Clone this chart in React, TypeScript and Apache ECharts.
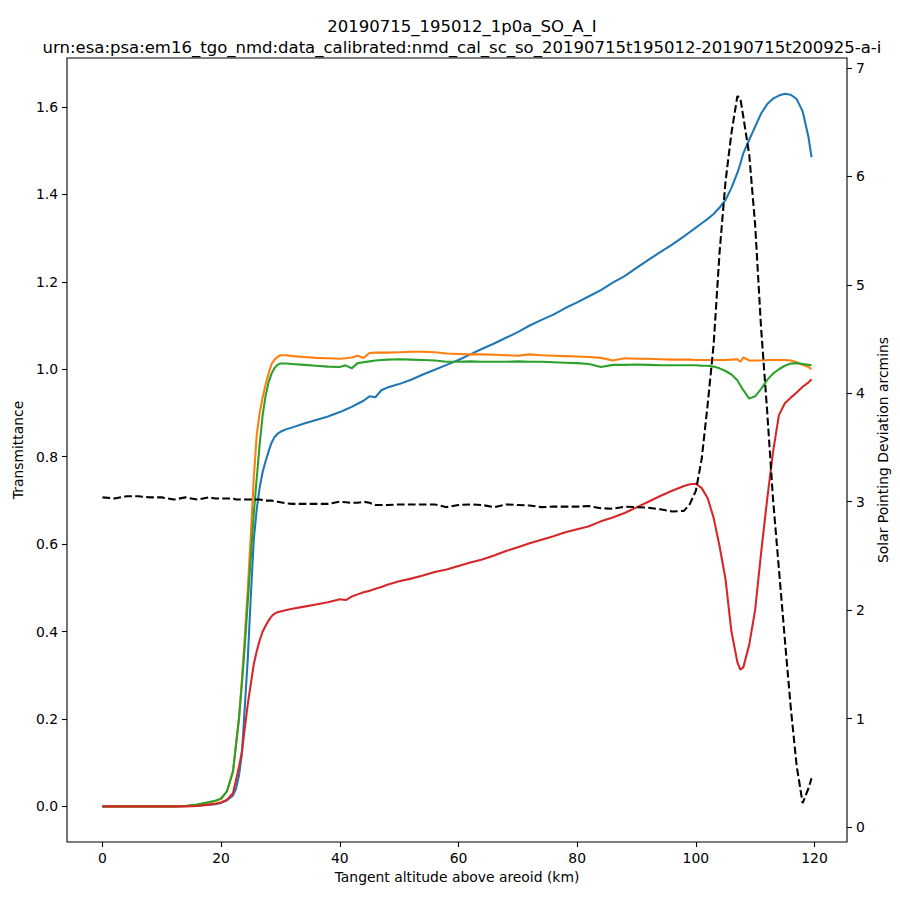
import React, { useEffect, useRef } from "react";
import * as echarts from "echarts";

const titleLine1 = "20190715_195012_1p0a_SO_A_I";
const titleLine2 =
  "urn:esa:psa:em16_tgo_nmd:data_calibrated:nmd_cal_sc_so_20190715t195012-20190715t200925-a-i";

const altitude = [
  0, 2, 4, 6, 8, 10, 12, 14, 16, 18,
  19, 20, 21, 22, 22.5, 23, 23.5, 24, 24.5, 25,
  25.5, 26, 26.5, 27, 27.5, 28, 28.5, 29, 29.5, 30,
  31, 32, 34, 36, 38, 40, 41, 42, 43, 44,
  45, 46, 47, 48, 50, 52, 54, 56, 58, 60,
  62, 64, 66, 68, 70, 72, 74, 76, 78, 80,
  82, 84, 86, 88, 90, 92, 94, 96, 98, 99,
  100, 101, 102, 103, 104, 105, 106, 107, 107.5, 108,
  109, 110, 111, 112, 113, 114, 115, 116, 117, 118,
  119, 119.5,
];

const blueSeries = [
  0, 0, 0, 0, 0, 0, 0, 0.001, 0.002, 0.004,
  0.005, 0.008, 0.014, 0.025, 0.04, 0.07, 0.12, 0.23, 0.34, 0.48,
  0.61, 0.68, 0.73, 0.765, 0.79, 0.812, 0.832, 0.845, 0.852, 0.857,
  0.863, 0.867, 0.876, 0.884, 0.892, 0.902, 0.908, 0.914, 0.921, 0.928,
  0.938, 0.936, 0.952, 0.958, 0.966, 0.976, 0.988, 0.999, 1.01, 1.021,
  1.034, 1.047, 1.059, 1.072, 1.085, 1.1, 1.113, 1.125, 1.14, 1.153,
  1.167, 1.181, 1.198, 1.213, 1.232, 1.25, 1.268, 1.285, 1.304, 1.314,
  1.324, 1.334, 1.344, 1.355, 1.37, 1.387, 1.415, 1.449, 1.47, 1.494,
  1.525, 1.555, 1.585, 1.606, 1.619, 1.626, 1.63, 1.628, 1.618, 1.59,
  1.53, 1.485,
];

const orangeSeries = [
  0, 0, 0, 0, 0, 0, 0, 0.001, 0.004, 0.009,
  0.012, 0.017, 0.035, 0.08, 0.14, 0.2, 0.29, 0.39, 0.5, 0.62,
  0.75, 0.85, 0.9, 0.936, 0.965, 0.99, 1.012, 1.022, 1.028, 1.032,
  1.032, 1.03, 1.028, 1.026, 1.025, 1.024, 1.025, 1.027, 1.031, 1.026,
  1.037, 1.038, 1.038, 1.038, 1.039, 1.04, 1.04, 1.039, 1.036, 1.035,
  1.034, 1.034, 1.033, 1.032, 1.031, 1.034, 1.032, 1.031, 1.03, 1.029,
  1.028, 1.026, 1.02, 1.025, 1.024, 1.024, 1.023, 1.022, 1.022, 1.022,
  1.021, 1.021, 1.021, 1.021, 1.021, 1.021, 1.022, 1.023, 1.017, 1.027,
  1.02, 1.02, 1.02, 1.021, 1.021, 1.021, 1.021, 1.02, 1.016, 1.01,
  1.005, 1.0,
];

const greenSeries = [
  0, 0, 0, 0, 0, 0, 0, 0.001, 0.004, 0.01,
  0.013, 0.018, 0.035, 0.08, 0.14, 0.2, 0.28, 0.37, 0.47, 0.57,
  0.67, 0.75, 0.83, 0.895, 0.94, 0.97, 0.99, 1.003, 1.01, 1.013,
  1.013, 1.012, 1.01, 1.008, 1.006, 1.005, 1.009, 1.002, 1.014, 1.016,
  1.018, 1.02, 1.021, 1.022, 1.023, 1.022, 1.021, 1.02, 1.017, 1.017,
  1.018, 1.017, 1.017, 1.017, 1.018, 1.017, 1.017, 1.016, 1.015, 1.014,
  1.012, 1.005, 1.01, 1.01, 1.011, 1.01, 1.009, 1.009, 1.009, 1.009,
  1.009, 1.008, 1.008, 1.006, 1.002, 0.996, 0.988, 0.975, 0.963, 0.952,
  0.933, 0.938, 0.955, 0.975, 0.99, 1.0, 1.008, 1.013, 1.014, 1.012,
  1.01, 1.009,
];

const redSeries = [
  0, 0, 0, 0, 0, 0, 0, 0, 0.001, 0.004,
  0.006, 0.009, 0.015, 0.03, 0.06, 0.09, 0.125, 0.18, 0.235, 0.28,
  0.325, 0.355, 0.38, 0.4, 0.413, 0.425, 0.435, 0.441, 0.444, 0.446,
  0.449, 0.452, 0.457, 0.462, 0.467, 0.474, 0.472, 0.48, 0.485, 0.49,
  0.493, 0.498, 0.502, 0.507, 0.515, 0.521, 0.528, 0.536, 0.542, 0.55,
  0.558, 0.565, 0.574, 0.584, 0.593, 0.602, 0.61, 0.618, 0.627, 0.634,
  0.641, 0.652, 0.661, 0.671, 0.684, 0.697, 0.71, 0.722, 0.733, 0.737,
  0.738, 0.728, 0.705, 0.66, 0.595, 0.52, 0.4, 0.33, 0.313, 0.318,
  0.37, 0.45, 0.58, 0.7, 0.81, 0.895, 0.922, 0.935, 0.947, 0.96,
  0.97, 0.977,
];

const pointingDeviation = [
  3.04, 3.03, 3.05, 3.05, 3.04, 3.04, 3.02, 3.04, 3.02, 3.04,
  3.03, 3.03, 3.03, 3.03, 3.02, 3.02, 3.02, 3.02, 3.02, 3.02,
  3.02, 3.02, 3.02, 3.015, 3.01, 3.01, 3.01, 3.005, 3.0, 2.995,
  2.985, 2.98, 2.98, 2.98, 2.98, 3.0, 2.995, 2.99, 2.99, 3.0,
  2.99, 2.97, 2.97, 2.97, 2.975, 2.975, 2.975, 2.975, 2.95, 2.97,
  2.975, 2.97, 2.95, 2.975, 2.97, 2.965, 2.95, 2.955, 2.955, 2.955,
  2.96, 2.94, 2.935, 2.955, 2.95, 2.945, 2.93, 2.91, 2.915, 2.98,
  3.1, 3.4, 3.9, 4.45, 5.3, 5.95, 6.4, 6.74, 6.72, 6.55,
  6.2, 5.55, 4.6, 3.85, 3.03, 2.38, 1.73, 1.1, 0.56, 0.22,
  0.36, 0.45,
];

const xTicks = [0, 20, 40, 60, 80, 100, 120];
const leftTicks = [0, 0.2, 0.4, 0.6, 0.8, 1.0, 1.2, 1.4, 1.6];
const rightTicks = [0, 1, 2, 3, 4, 5, 6, 7];

const FONT = "DejaVu Sans";
const LW = 2.08;

function pairs(values: number[]) {
  return altitude.map((x, i) => [x, values[i]]);
}

function lineSeries(values: number[], color: string, yAxisIndex: number, dashed = false) {
  return {
    type: "line",
    yAxisIndex,
    data: pairs(values),
    showSymbol: false,
    symbol: "none",
    silent: true,
    lineStyle: { color, width: LW, type: dashed ? [7.7, 3.3] : "solid" },
    itemStyle: { color },
  };
}

export default function App() {
  const ref = useRef<HTMLDivElement>(null);

  useEffect(() => {
    const chart = echarts.init(ref.current!, null, { renderer: "svg" });
    const axisText = { color: "#000", fontSize: 13.9, fontFamily: FONT };
    const tickStyle = { color: "#000", width: 1.1 };
    chart.setOption({
      animation: false,
      textStyle: { fontFamily: FONT, color: "#000" },
      title: [
        {
          text: titleLine1,
          left: 457,
          top: 13,
          textAlign: "center",
          textStyle: { fontSize: 16.5, fontWeight: "normal", color: "#000", fontFamily: FONT },
        },
        {
          text: titleLine2,
          left: 457,
          top: 34,
          textAlign: "center",
          textStyle: { fontSize: 16.5, fontWeight: "normal", color: "#000", fontFamily: FONT },
        },
      ],
      grid: {
        left: 67,
        right: 53,
        top: 58,
        bottom: 58,
        show: true,
        borderColor: "#000",
        borderWidth: 1.1,
        backgroundColor: "transparent",
      },
      xAxis: {
        type: "value",
        min: -5.975,
        max: 125.475,
        splitNumber: 6,
        axisLine: { show: false, onZero: false },
        axisTick: { show: true, length: 5, lineStyle: tickStyle, customValues: xTicks },
        axisLabel: { ...axisText, margin: 9, customValues: xTicks },
        splitLine: { show: false },
        name: "Tangent altitude above areoid (km)",
        nameLocation: "middle",
        nameGap: 28,
        nameTextStyle: axisText,
      },
      yAxis: [
        {
          type: "value",
          position: "left",
          min: -0.0815,
          max: 1.712,
          splitNumber: 9,
          axisLine: { show: false, onZero: false },
          axisTick: { show: true, length: 5, lineStyle: tickStyle, customValues: leftTicks },
          axisLabel: {
            ...axisText,
            margin: 9,
            customValues: leftTicks,
            formatter: (v: number) => v.toFixed(1),
          },
          splitLine: { show: false },
          name: "Transmittance",
          nameLocation: "middle",
          nameRotate: 90,
          nameGap: 39,
          nameTextStyle: axisText,
        },
        {
          type: "value",
          position: "right",
          min: -0.138,
          max: 7.092,
          splitNumber: 7,
          axisLine: { show: false, onZero: false },
          axisTick: { show: true, length: 5, lineStyle: tickStyle, customValues: rightTicks },
          axisLabel: {
            ...axisText,
            margin: 9,
            customValues: rightTicks,
          },
          splitLine: { show: false },
          name: "Solar Pointing Deviation arcmins",
          nameLocation: "middle",
          nameRotate: 90,
          nameGap: 24,
          nameTextStyle: axisText,
        },
      ],
      series: [
        lineSeries(blueSeries, "#1f77b4", 0),
        lineSeries(orangeSeries, "#ff7f0e", 0),
        lineSeries(greenSeries, "#2ca02c", 0),
        lineSeries(redSeries, "#d62728", 0),
        lineSeries(pointingDeviation, "#000000", 1, true),
      ],
    });
    return () => chart.dispose();
  }, []);

  return (
    <div
      ref={ref}
      style={{ position: "fixed", left: 0, top: 0, width: 900, height: 900, background: "#fff" }}
    />
  );
}
